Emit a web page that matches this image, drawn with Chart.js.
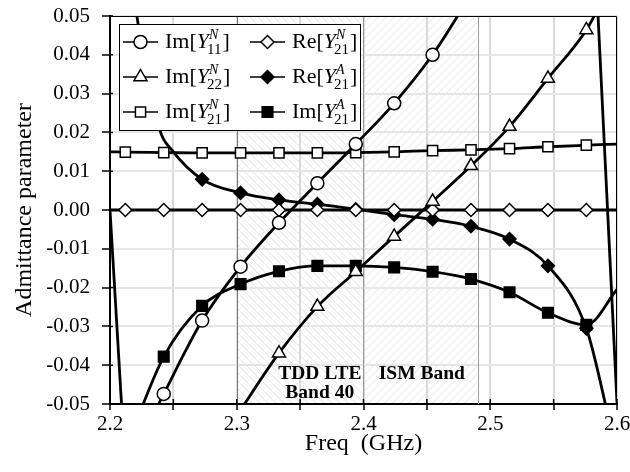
<!DOCTYPE html>
<html>
<head>
<meta charset="utf-8">
<script src="https://cdn.jsdelivr.net/npm/chart.js@4.4.0/dist/chart.umd.min.js"></script>
<style>
  html, body { margin: 0; padding: 0; background: #fff; }
  #wrap { width: 630px; height: 472px; }
</style>
</head>
<body>
<div id="wrap"><canvas id="chart" width="630" height="472"></canvas></div>
<script>
// frequencies (GHz) where the symbols sit
const freqMarks = [2.2121, 2.2424, 2.2727, 2.3030, 2.3333, 2.3636, 2.3939, 2.4242, 2.4545, 2.4848, 2.5152, 2.5455, 2.5758];

// values at those frequencies (null = no symbol there)
const imY11N = [null, -0.0474, -0.0285, -0.0146, -0.0033, 0.0069, 0.0170, 0.0275, 0.0400, null, null, null, null];
const imY22N = [null, null, null, null, -0.0369, -0.0249, -0.0159, -0.0068, 0.0022, 0.0114, 0.0215, 0.0339, 0.0464];
const imY21N = [0.0149, 0.0148, 0.0147, 0.0147, 0.0147, 0.0147, 0.0148, 0.0150, 0.0153, 0.0155, 0.0158, 0.0163, 0.0167];
const reY21N = [0, 0, 0, 0, 0, 0, 0, 0, 0, 0, 0, 0, 0];
const reY21A = [null, null, 0.0079, 0.0044, 0.0026, 0.0015, 0.0002, -0.0012, -0.0024, -0.0042, -0.0075, -0.0144, -0.0305];
const imY21A = [null, -0.0378, -0.0247, -0.0191, -0.0158, -0.0144, -0.0144, -0.0148, -0.0159, -0.0178, -0.0212, -0.0265, -0.0296];

// extra curve points without symbols (ends running out of the frame)
const imY11NExtra = [[2.2300, -0.0555], [2.4848, 0.0555]];
const imY22NExtra = [[2.3000, -0.0530], [2.5900, 0.0550]];
const imY21NExtra = [[2.2000, 0.0150], [2.6000, 0.0170]];
const reY21NExtra = [[2.2000, 0.0000], [2.6000, 0.0000]];
const reY21AExtra = [[2.2190, 0.0560], [2.2212, 0.0500], [2.2393, 0.0206], [2.2487, 0.0155], [2.5950, -0.0558]];
const imY21AExtra = [[2.2200, -0.0550], [2.6000, -0.0205]];

// near-vertical jumps across the resonances
const jumpLeft = [[2.2000, 0.0000], [2.2110, -0.0605]];
const jumpRight = [[2.5840, 0.0570], [2.6020, -0.0630]];

// axes
const xMin = 2.2, xMax = 2.6, xStep = 0.05;
const yMin = -0.05, yMax = 0.05, yStep = 0.01;

// shaded bands
const bandTDD = [2.3, 2.4];
const bandISM = [2.4, 2.49];

const FONT = '"Liberation Serif", "Times New Roman", serif';

function build(marks, extra) {
  const pts = [];
  marks.forEach((v, i) => { if (v !== null) pts.push({ x: freqMarks[i], y: v, m: true }); });
  extra.forEach(p => pts.push({ x: p[0], y: p[1], m: false }));
  pts.sort((a, b) => a.x - b.x);
  return pts;
}

const series = [
  { name: 'Im[', sup: 'N', sub: '11', marks: imY11N, extra: imY11NExtra, style: 'circle', fill: '#fff', r: 6.5 },
  { name: 'Im[', sup: 'N', sub: '22', marks: imY22N, extra: imY22NExtra, style: 'triangle', fill: '#fff', r: 7.5 },
  { name: 'Im[', sup: 'N', sub: '21', marks: imY21N, extra: imY21NExtra, style: 'rect', fill: '#fff', r: 7.2 },
  { name: 'Re[', sup: 'N', sub: '21', marks: reY21N, extra: reY21NExtra, style: 'rectRot', fill: '#fff', r: 6.5 },
  { name: 'Re[', sup: 'A', sub: '21', marks: reY21A, extra: reY21AExtra, style: 'rectRot', fill: '#000', r: 6.5 },
  { name: 'Im[', sup: 'A', sub: '21', marks: imY21A, extra: imY21AExtra, style: 'rect', fill: '#000', r: 7.5 }
];

const datasets = series.map(s => ({
  data: build(s.marks, s.extra),
  borderColor: '#000',
  borderWidth: 2.8,
  cubicInterpolationMode: 'monotone',
  pointStyle: s.style,
  pointRadius: c => (c.raw && c.raw.m ? s.r : 0),
  pointBackgroundColor: s.fill,
  pointBorderColor: '#000',
  pointBorderWidth: 1.5
}));

[jumpLeft, jumpRight].forEach(j => {
  datasets.push({
    data: j.map(p => ({ x: p[0], y: p[1] })),
    borderColor: '#000',
    borderWidth: 2.8,
    tension: 0,
    pointRadius: 0
  });
});

function marker(ctx, style, x, y, r, fill) {
  ctx.beginPath();
  if (style === 'circle') {
    ctx.arc(x, y, r, 0, Math.PI * 2);
  } else if (style === 'triangle') {
    ctx.moveTo(x, y - r);
    ctx.lineTo(x + r * 0.866, y + r * 0.5);
    ctx.lineTo(x - r * 0.866, y + r * 0.5);
    ctx.closePath();
  } else if (style === 'rect') {
    const s = r * Math.SQRT1_2;
    ctx.rect(x - s, y - s, 2 * s, 2 * s);
  } else {
    ctx.moveTo(x - r, y);
    ctx.lineTo(x, y - r);
    ctx.lineTo(x + r, y);
    ctx.lineTo(x, y + r);
    ctx.closePath();
  }
  ctx.fillStyle = fill;
  ctx.fill();
  ctx.lineWidth = 1.5;
  ctx.strokeStyle = '#000';
  ctx.stroke();
}

function hatch(ctx, area, x1, x2, dir) {
  ctx.save();
  ctx.beginPath();
  ctx.rect(x1, area.top, x2 - x1, area.bottom - area.top);
  ctx.clip();
  ctx.strokeStyle = '#e2e2e2';
  ctx.lineWidth = 1;
  const h = area.bottom - area.top;
  ctx.beginPath();
  for (let x = x1 - h; x < x2 + h; x += 8) {
    if (dir > 0) { ctx.moveTo(x, area.bottom); ctx.lineTo(x + h, area.top); }
    else { ctx.moveTo(x, area.top); ctx.lineTo(x + h, area.bottom); }
  }
  ctx.stroke();
  ctx.restore();
}

const decor = {
  id: 'decor',
  beforeDraw(chart) {
    const { ctx, chartArea: a, scales: { x } } = chart;
    ctx.save();
    ctx.fillStyle = '#fff';
    ctx.fillRect(0, 0, chart.width, chart.height);
    ctx.restore();
    hatch(ctx, a, x.getPixelForValue(bandTDD[0]), x.getPixelForValue(bandTDD[1]), -1);
    hatch(ctx, a, x.getPixelForValue(bandISM[0]), x.getPixelForValue(bandISM[1]), 1);
  },
  beforeDatasetsDraw(chart) {
    const { ctx, chartArea: a, scales: { x, y } } = chart;
    ctx.save();
    ctx.lineWidth = 1;
    [[bandTDD[0], '#777'], [bandTDD[1], '#999'], [bandISM[1], '#999']].forEach(b => {
      const px = Math.round(x.getPixelForValue(b[0])) + 0.5;
      ctx.strokeStyle = b[1];
      ctx.beginPath(); ctx.moveTo(px, a.top); ctx.lineTo(px, a.bottom); ctx.stroke();
    });
    ctx.fillStyle = '#000';
    ctx.font = 'bold 19.5px ' + FONT;
    ctx.textAlign = 'center';
    ctx.textBaseline = 'middle';
    ctx.fillText('TDD LTE', x.getPixelForValue(2.3655), y.getPixelForValue(-0.0423));
    ctx.fillText('Band 40', x.getPixelForValue(2.3655), y.getPixelForValue(-0.0471));
    ctx.fillText('ISM Band', x.getPixelForValue(2.4460), y.getPixelForValue(-0.0423));
    ctx.restore();
  },
  afterDraw(chart) {
    const { ctx, chartArea: a, scales: { x, y } } = chart;
    ctx.save();
    // frame top/right
    ctx.strokeStyle = '#000';
    ctx.lineWidth = 1;
    ctx.beginPath();
    ctx.moveTo(a.left, a.top + 0.5); ctx.lineTo(a.right - 0.5, a.top + 0.5); ctx.lineTo(a.right - 0.5, a.bottom);
    ctx.stroke();
    // inner tick stubs
    ctx.lineWidth = 1.5;
    ctx.beginPath();
    for (let v = xMin; v <= xMax + 1e-9; v += xStep) {
      const px = x.getPixelForValue(v);
      ctx.moveTo(px, a.bottom); ctx.lineTo(px, a.bottom - 5);
    }
    for (let v = yMin; v <= yMax + 1e-9; v += yStep) {
      const py = y.getPixelForValue(v);
      ctx.moveTo(a.left, py); ctx.lineTo(a.left + 3, py);
    }
    ctx.stroke();

    // legend
    const L = { x: 119, y: 24, w: 241, h: 106 };
    ctx.fillStyle = '#fff';
    ctx.fillRect(L.x, L.y, L.w, L.h);
    ctx.strokeStyle = '#000';
    ctx.lineWidth = 1;
    ctx.strokeRect(L.x + 0.5, L.y + 0.5, L.w, L.h);
    const rows = [42, 77, 112];
    const cols = [{ l0: 123, l1: 158, t: 165 }, { l0: 250, l1: 285, t: 292 }];
    series.forEach((s, i) => {
      const col = cols[Math.floor(i / 3)];
      const cy = rows[i % 3];
      ctx.strokeStyle = '#000';
      ctx.lineWidth = 1.5;
      ctx.beginPath(); ctx.moveTo(col.l0, cy); ctx.lineTo(col.l1, cy); ctx.stroke();
      marker(ctx, s.style, (col.l0 + col.l1) / 2, cy, s.r, s.fill);
      // text
      const base = cy + 6;
      let tx = col.t;
      ctx.fillStyle = '#000';
      ctx.textAlign = 'left';
      ctx.textBaseline = 'alphabetic';
      ctx.font = '22px ' + FONT;
      ctx.fillText(s.name, tx, base);
      tx += ctx.measureText(s.name).width;
      ctx.font = 'italic 22px ' + FONT;
      ctx.fillText('Y', tx, base);
      tx += ctx.measureText('Y').width;
      ctx.font = 'italic 14px ' + FONT;
      ctx.fillText(s.sup, tx, base - 9);
      const w1 = ctx.measureText(s.sup).width;
      ctx.font = '15px ' + FONT;
      ctx.fillText(s.sub, tx - 2, base + 6);
      const w2 = ctx.measureText(s.sub).width - 2;
      tx += Math.max(w1, w2) + 1;
      ctx.font = '22px ' + FONT;
      ctx.fillText(']', tx, base);
    });
    ctx.restore();
  }
};

new Chart(document.getElementById('chart'), {
  type: 'line',
  data: { datasets: datasets },
  options: {
    responsive: false,
    animation: false,
    events: [],
    layout: { padding: { top: 16, right: 13, left: 0, bottom: 0 } },
    plugins: { legend: { display: false }, tooltip: { enabled: false } },
    scales: {
      x: {
        type: 'linear',
        min: xMin, max: xMax,
        afterFit: s => { s.height = 68; s.paddingLeft = 0; s.paddingRight = 0; },
        ticks: {
          stepSize: xStep,
          autoSkip: false,
          maxRotation: 0,
          padding: 2,
          color: '#000',
          font: { family: FONT, size: 21 },
          callback: v => {
            const r = Math.round(v * 100);
            return r % 10 === 0 ? (r / 100).toFixed(1) : '';
          }
        },
        grid: { color: '#d9d9d9', lineWidth: 2, tickColor: '#000', tickLength: 6, tickWidth: 1.5 },
        border: { color: '#000', width: 2 },
        title: { display: true, text: 'Freq  (GHz)', color: '#000', font: { family: FONT, size: 24 }, padding: { top: 0, bottom: 14 } }
      },
      y: {
        min: yMin, max: yMax,
        afterFit: s => { s.width = 110; s.paddingTop = 0; s.paddingBottom = 0; },
        ticks: {
          stepSize: yStep,
          padding: 12,
          color: '#000',
          font: { family: FONT, size: 21 },
          callback: v => (Math.abs(v) < 1e-9 ? '0.00' : v.toFixed(2))
        },
        grid: { color: '#e6e6e6', lineWidth: 2, tickColor: '#000', tickLength: 8, tickWidth: 1.5 },
        border: { color: '#000', width: 2 },
        title: { display: true, text: 'Admittance parameter', color: '#000', font: { family: FONT, size: 24 }, padding: { top: 10, bottom: 0 } }
      }
    }
  },
  plugins: [decor]
});
</script>
</body>
</html>
